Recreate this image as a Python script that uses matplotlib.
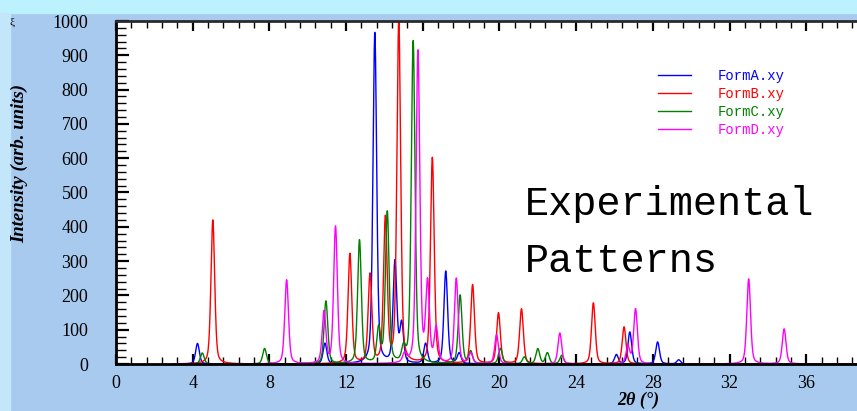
#!/usr/bin/env python3
"""XRD overlay of four forms, experimental patterns."""
import numpy as np
import matplotlib as mpl
import matplotlib.pyplot as plt
from matplotlib.patches import Rectangle
from matplotlib.ticker import MultipleLocator

mpl.rcParams.update({
    'font.family': 'serif', 'font.serif': ['Liberation Serif', 'DejaVu Serif'],
    'font.size': 13, 'xtick.labelsize': 13, 'ytick.labelsize': 13,
})

# peak lists: 2theta (deg), intensity
formA_pos = [4.25, 10.9, 13.5, 14.55, 14.9, 16.15, 17.2, 17.9, 26.1, 26.8, 28.25, 29.35]
formA_int = [60, 60, 965, 295, 113, 58, 270, 30, 27, 93, 64, 12]
formB_pos = [5.05, 12.2, 13.25, 14.05, 14.75, 16.5, 18.6, 19.95, 21.15, 24.9, 26.5]
formB_int = [420, 320, 258, 420, 1000, 600, 230, 148, 160, 178, 108]
formC_pos = [4.5, 7.75, 10.95, 12.7, 13.7, 14.15, 15.0, 15.5, 17.95, 18.5, 20.05,
             21.3, 22.0, 22.5, 23.25]
formC_int = [32, 45, 183, 360, 100, 440, 40, 940, 200, 35, 45, 20, 44, 32, 25]
formD_pos = [8.9, 10.85, 11.45, 15.05, 15.75, 16.25, 16.7, 17.75, 18.5, 19.85,
             23.15, 26.7, 27.1, 33.0, 34.85]
formD_int = [245, 150, 400, 25, 910, 230, 100, 248, 30, 85, 90, 50, 160, 248, 102]

names = ['FormA.xy', 'FormB.xy', 'FormC.xy', 'FormD.xy']
colors = ['#0000FF', '#FF0000', '#008000', '#FF00FF']
x_ticks = [0, 4, 8, 12, 16, 20, 24, 28, 32, 36]
y_ticks = [0, 100, 200, 300, 400, 500, 600, 700, 800, 900, 1000]

def pattern(tt, pos, inten, fwhm=0.23, eta=0.4):
    y = np.zeros_like(tt)
    s = fwhm / 2.3548
    g = fwhm / 2
    for p, h in zip(pos, inten):
        d = tt - p
        y += h * ((1 - eta) * np.exp(-0.5 * (d / s) ** 2) + eta / (1 + (d / g) ** 2))
    return y

W, H = 857, 411
fig = plt.figure(figsize=(W / 100, H / 100), dpi=100)
fig.patch.set_facecolor('#A8CAEE')
fig.add_artist(Rectangle((0, 1 - 13 / H), 1, 13 / H, transform=fig.transFigure,
                         color='#BCF2FE', zorder=0))
fig.add_artist(Rectangle((0, 0), 10 / W, 1 - 13 / H, transform=fig.transFigure,
                         color='#C3E6FB', zorder=0))

ax = fig.add_axes([116 / W, (H - 364) / H, (W - 116) / W, (364 - 21) / H])
ax.set_facecolor('white')

tt = np.arange(3.0, 38.7, 0.01)
series = [(formA_pos, formA_int), (formB_pos, formB_int),
          (formC_pos, formC_int), (formD_pos, formD_int)]
for (pos, inten), c, n in zip(series, colors, names):
    ax.plot(tt, pattern(tt, pos, inten), color=c, lw=1.0, label=n)

ax.set_xlim(0, 38.65)
ax.set_ylim(0, 1000)
ax.set_xticks(x_ticks)
ax.set_yticks(y_ticks)
ax.xaxis.set_minor_locator(MultipleLocator(0.8))
ax.yaxis.set_minor_locator(MultipleLocator(20))
ax.tick_params(which='both', direction='in', top=True, right=False, color='black')
ax.tick_params(axis='y', which='major', length=9, width=1.6, pad=20)
ax.tick_params(axis='y', which='minor', length=7, width=1.0)
ax.tick_params(axis='x', which='major', length=7, width=1.6, pad=8)
ax.tick_params(axis='x', which='minor', length=5, width=1.0)
for side in ['left', 'bottom']:
    ax.spines[side].set_linewidth(2)
ax.spines['top'].set_linewidth(2)
ax.spines['top'].set_color('#2a2a2a')
ax.spines['right'].set_visible(False)

leg = ax.legend(loc='upper left', bbox_to_anchor=((658 - 116) / 741, (364 - 69) / 343),
                frameon=False, prop={'family': 'Liberation Mono', 'size': 10},
                handlelength=2.4, handletextpad=1.9, labelspacing=0.28,
                borderpad=0, borderaxespad=0, labelcolor='linecolor')

ax.text((525 - 116) / 741, (364 - 215) / 343, 'Experimental', family='Liberation Mono',
        fontsize=29, va='baseline', ha='left', transform=ax.transAxes)
ax.text((525 - 116) / 741, (364 - 272) / 343, 'Patterns', family='Liberation Mono',
        fontsize=29, va='baseline', ha='left', transform=ax.transAxes)

fig.text(20 / W, 1 - 163 / H, 'Intensity (arb. units)', rotation=90, ha='center',
         va='center', fontsize=13.5, fontweight='bold', fontstyle='italic')
fig.text(638 / W, 1 - 400 / H, '2θ (°)', ha='center', va='center', fontsize=13,
         fontweight='bold', fontstyle='italic')
fig.text(12 / W, 1 - 22 / H, 'ξ', ha='center', va='center', fontsize=8)

fig.savefig('out.png', dpi=100, facecolor=fig.get_facecolor())
